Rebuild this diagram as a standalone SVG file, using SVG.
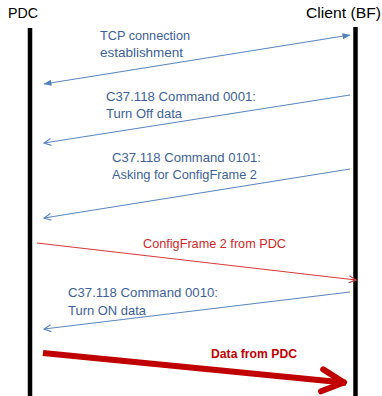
<svg xmlns="http://www.w3.org/2000/svg" width="382" height="396" viewBox="0 0 382 396">
<style>
text{font-family:"Liberation Sans","Open Sans",Arial,sans-serif;}
.head{font-size:14.5px;fill:#000;}
.lbl{font-size:13px;fill:#3d5f99;}
.red{font-size:13px;fill:#d02828;}
.bold{font-size:12.5px;font-weight:bold;fill:#c00000;}
.bar{stroke:#000;stroke-width:4.5;fill:none;}
.blue{stroke:#5a86c0;stroke-width:1.1;fill:none;}
.thin{stroke:#d63a3a;stroke-width:1.1;fill:none;}
.thick{stroke:#c00000;stroke-width:6;fill:none;}
</style>
<defs>
<marker id="fillB" viewBox="0 0 8 8" refX="7.5" refY="4" markerWidth="8" markerHeight="8" markerUnits="userSpaceOnUse" orient="auto-start-reverse">
<path d="M0,1 L8,4 L0,7 z" fill="#4f81bd"/>
</marker>
<marker id="openB" viewBox="0 0 10 10" refX="9" refY="5" markerWidth="10" markerHeight="10" markerUnits="userSpaceOnUse" orient="auto">
<path d="M2,1.5 L9,5 L2,8.5" fill="none" stroke="#5a86c0" stroke-width="1.1"/>
</marker>
<marker id="openR" viewBox="0 0 10 10" refX="9" refY="5" markerWidth="10" markerHeight="10" markerUnits="userSpaceOnUse" orient="auto">
<path d="M2,1.5 L9,5 L2,8.5" fill="none" stroke="#d63a3a" stroke-width="1.1"/>
</marker>
<marker id="thickR" viewBox="-30 -16 34 32" refX="0" refY="0" markerWidth="34" markerHeight="32" markerUnits="userSpaceOnUse" orient="auto">
<path d="M-24,-11 L-2,0 L-24,11" fill="none" stroke="#c00000" stroke-width="6" stroke-linecap="round" stroke-linejoin="round"/>
</marker>
</defs>

<g id="pdc">
<text class="head" x="8" y="18.3" textLength="30" lengthAdjust="spacingAndGlyphs">PDC</text>
<line class="bar" x1="30" y1="28" x2="30" y2="396"/>
</g>
<g id="client">
<text class="head" x="306" y="18.3" textLength="75" lengthAdjust="spacingAndGlyphs">Client (BF)</text>
<line class="bar" x1="355.5" y1="27" x2="355.5" y2="396"/>
</g>

<g id="connectors">
<line class="blue" x1="44" y1="84" x2="350" y2="35" marker-start="url(#fillB)" marker-end="url(#fillB)"/>
<line class="blue" x1="350" y1="95" x2="44" y2="143" marker-end="url(#openB)"/>
<line class="blue" x1="350" y1="169" x2="44" y2="218" marker-end="url(#openB)"/>
<line class="thin" x1="37" y1="243" x2="356" y2="280" marker-end="url(#openR)"/>
<line class="blue" x1="350" y1="292" x2="44" y2="329" marker-end="url(#openB)"/>
<line class="thick" x1="43" y1="353" x2="346" y2="382.7" marker-end="url(#thickR)"/>
</g>

<g id="labels">
<text class="lbl" x="100" y="39.5" textLength="90" lengthAdjust="spacingAndGlyphs">TCP connection</text>
<text class="lbl" x="100" y="57" textLength="83" lengthAdjust="spacingAndGlyphs">establishment</text>
<text class="lbl" x="106" y="100.5" textLength="150" lengthAdjust="spacingAndGlyphs">C37.118 Command 0001:</text>
<text class="lbl" x="106" y="117.5" textLength="76" lengthAdjust="spacingAndGlyphs">Turn Off data</text>
<text class="lbl" x="112" y="162.3" textLength="149" lengthAdjust="spacingAndGlyphs">C37.118 Command 0101:</text>
<text class="lbl" x="112" y="179.3" textLength="145" lengthAdjust="spacingAndGlyphs">Asking for ConfigFrame 2</text>
<text class="red" x="143" y="248" textLength="143" lengthAdjust="spacingAndGlyphs">ConfigFrame 2 from PDC</text>
<text class="lbl" x="68" y="297.3" textLength="150" lengthAdjust="spacingAndGlyphs">C37.118 Command 0010:</text>
<text class="lbl" x="68" y="315" textLength="78" lengthAdjust="spacingAndGlyphs">Turn ON data</text>
<text class="bold" x="211" y="357.7" textLength="86" lengthAdjust="spacingAndGlyphs">Data from PDC</text>
</g>
</svg>
